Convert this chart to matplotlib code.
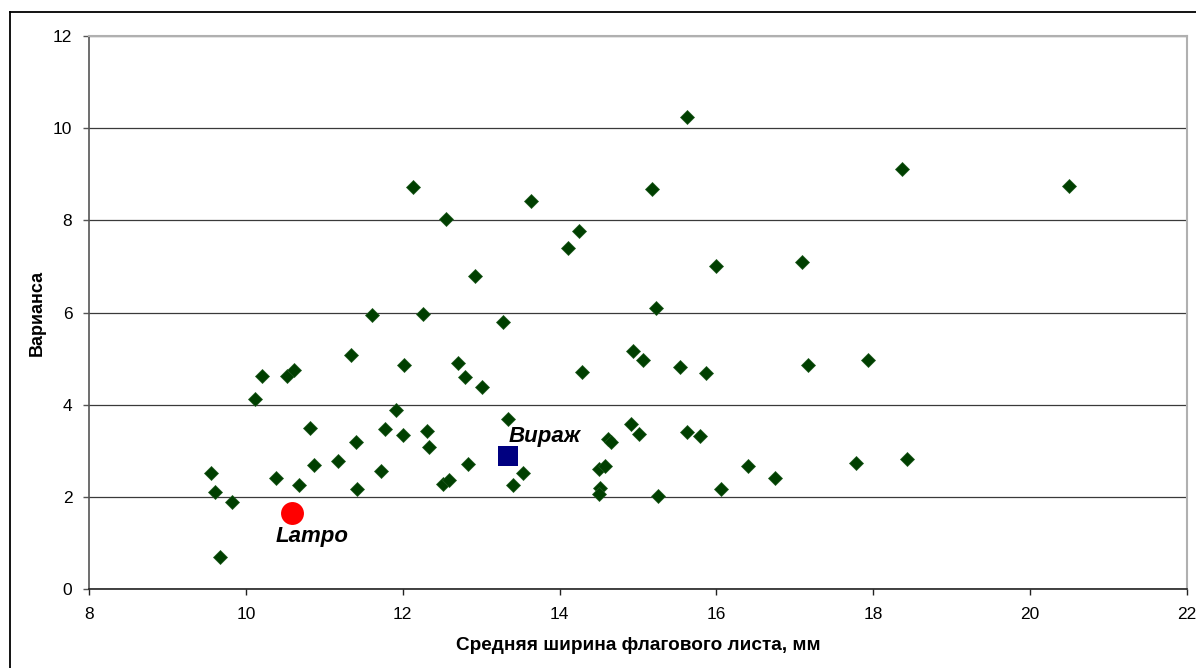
import matplotlib
matplotlib.use("Agg")
import matplotlib.pyplot as plt
from matplotlib.lines import Line2D

plt.rcParams['font.family'] = ['Liberation Sans', 'DejaVu Sans']

# Mean flag-leaf width (mm) and variance for each sample
width_mm = [9.56, 9.61, 9.82, 9.67, 10.12, 10.21, 10.53, 10.61, 10.39, 10.68,
            10.82, 10.87, 11.18, 11.34, 11.41, 11.42, 11.61, 11.72, 11.78, 11.91,
            12.00, 12.02, 12.13, 12.26, 12.31, 12.34, 12.55, 12.51, 12.59, 12.71,
            12.80, 12.83, 12.92, 13.01, 13.28, 13.34, 13.41, 13.54, 13.63, 14.11,
            14.25, 14.29, 14.50, 14.58, 14.52, 14.50, 14.62, 14.66, 14.91, 15.01,
            14.94, 15.07, 15.18, 15.23, 15.25, 15.54, 15.62, 15.63, 15.79, 15.87,
            16.00, 16.06, 16.40, 16.75, 17.09, 17.17, 17.78, 17.93, 18.37, 18.43,
            20.50]
variance = [2.51, 2.10, 1.88, 0.69, 4.12, 4.63, 4.63, 4.76, 2.41, 2.26,
            3.50, 2.70, 2.78, 5.07, 3.18, 2.18, 5.95, 2.57, 3.48, 3.89,
            3.35, 4.85, 8.73, 5.97, 3.43, 3.08, 8.03, 2.28, 2.37, 4.90,
            4.61, 2.72, 6.80, 4.38, 5.80, 3.69, 2.26, 2.52, 8.41, 7.39,
            7.77, 4.71, 2.60, 2.67, 2.19, 2.06, 3.25, 3.18, 3.58, 3.36,
            5.17, 4.96, 8.69, 6.10, 2.02, 4.82, 3.40, 10.24, 3.31, 4.69,
            7.00, 2.16, 2.66, 2.40, 7.09, 4.85, 2.73, 4.96, 9.12, 2.83,
            8.75]

# Highlighted cultivars
lampo_x, lampo_y = [10.59], [1.66]
virazh_x, virazh_y = [13.34], [2.88]

x_ticks = [8, 10, 12, 14, 16, 18, 20, 22]
y_ticks = [0, 2, 4, 6, 8, 10, 12]

fig = plt.figure(figsize=(11.96, 6.68), dpi=100)
ax = fig.add_axes([89 / 1196, 1 - 589 / 668, (1187 - 89) / 1196, (589 - 36) / 668])

ax.set_xlim(8, 22)
ax.set_ylim(0, 12)
ax.set_xticks(x_ticks)
ax.set_yticks(y_ticks)

# Horizontal gridlines only
ax.yaxis.grid(True, color='#3a3a3a', linewidth=0.9)
ax.set_axisbelow(True)

ax.plot(width_mm, variance, linestyle='none', marker='D', markersize=7.3,
        color='#003f00', markeredgecolor='#1f5a1f', markeredgewidth=0.5, zorder=3)
ax.plot(lampo_x, lampo_y, linestyle='none', marker='o', markersize=16.5,
        color='#ff0000', markeredgewidth=0, zorder=4)
ax.plot(virazh_x, virazh_y, linestyle='none', marker='s', markersize=14.5,
        color='#000080', markeredgewidth=0, zorder=4)

ax.text(lampo_x[0] + 0.26, lampo_y[0] - 0.52, 'Lampo', fontsize=16,
        fontweight='bold', fontstyle='italic', ha='center', va='center', zorder=5)
ax.text(virazh_x[0] + 0.47, virazh_y[0] + 0.44, 'Вираж', fontsize=16,
        fontweight='bold', fontstyle='italic', ha='center', va='center', zorder=5)

for side in ('top', 'right'):
    ax.spines[side].set_color('#b0b0b0')
    ax.spines[side].set_linewidth(1.5)
ax.spines['left'].set_color('#555555')
ax.spines['left'].set_linewidth(1.2)
ax.spines['bottom'].set_color('#222222')
ax.spines['bottom'].set_linewidth(1.2)

ax.tick_params(axis='y', direction='out', length=4, width=1, color='#555555',
               pad=8, labelsize=12.5)
ax.tick_params(axis='x', direction='out', length=4, width=1, color='#222222',
               pad=9, labelsize=12.5)

ax.set_xlabel('Средняя ширина флагового листа, мм', fontsize=13.7,
              fontweight='bold', labelpad=11)
ax.set_ylabel('Варианса', fontsize=13, fontweight='bold', labelpad=5)

# Chart frame around the whole drawing area
fig.add_artist(Line2D([9.5 / 1196, 9.5 / 1196], [1 - 12 / 668, -0.05],
                      transform=fig.transFigure, color='black', linewidth=1.3))
fig.add_artist(Line2D([9.5 / 1196, 1.05], [1 - 12 / 668, 1 - 12 / 668],
                      transform=fig.transFigure, color='black', linewidth=1.3))

fig.savefig('out.png', dpi=100)
